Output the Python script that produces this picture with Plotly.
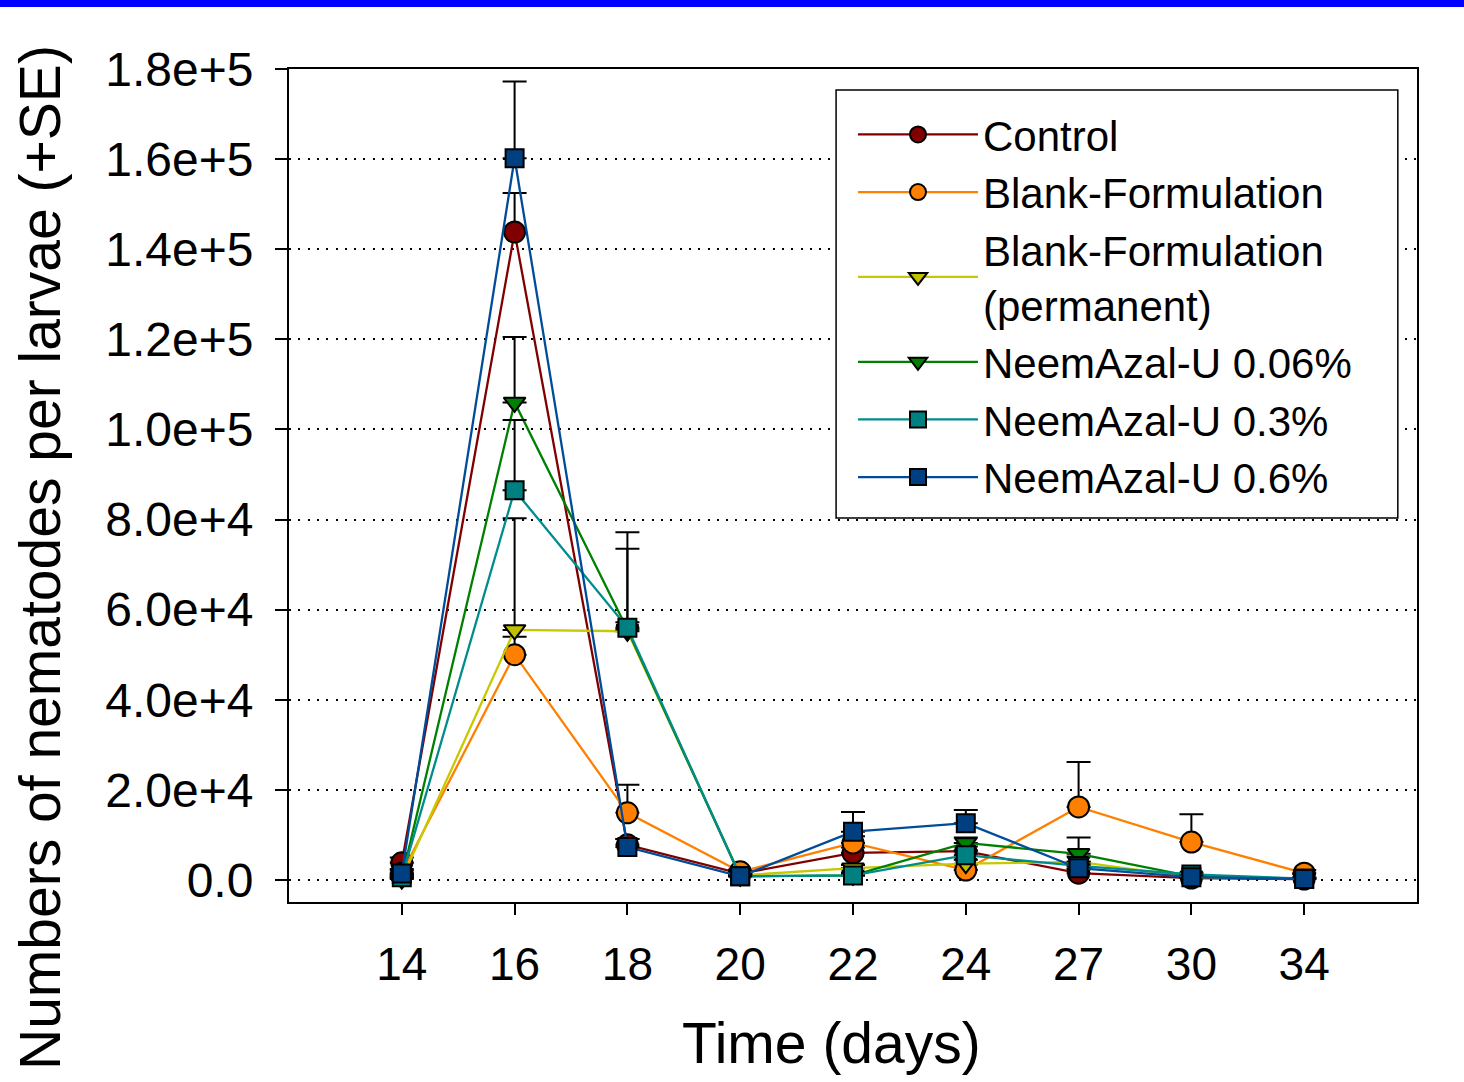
import plotly.graph_objects as go

# ── DATA ─────────────────────────────────────────────────────────────────────
days = ["14", "16", "18", "20", "22", "24", "27", "30", "34"]

control = [3800, 143800, 7800, 1400, 6000, 6400, 1500, 400, 200]
control_se = [1200, 8700, 1300, 500, 1200, 1000, 800, 300, 200]

blank = [1500, 50000, 14900, 1800, 8200, 2200, 16200, 8400, 1500]
blank_se = [900, 4000, 6200, 500, 1500, 1200, 10000, 6200, 700]

blank_perm = [200, 55500, 55200, 1000, 2600, 3600, 4000, 600, 300]
blank_perm_se = [400, 24800, 2000, 400, 700, 900, 1200, 400, 200]

neem_006 = [400, 106000, 55600, 800, 1000, 8200, 5800, 800, 300]
neem_006_se = [500, 14500, 21600, 400, 500, 1200, 3600, 400, 200]

neem_03 = [600, 86500, 56000, 800, 1000, 5500, 3100, 1200, 300]
neem_03_se = [500, 15600, 17500, 400, 600, 1100, 1000, 400, 200]

neem_06 = [1400, 160200, 7300, 800, 10700, 12600, 2600, 600, 200]
neem_06_se = [700, 17000, 1800, 400, 4400, 2900, 900, 400, 200]

y_ticks = [0, 20000, 40000, 60000, 80000, 100000, 120000, 140000, 160000, 180000]
y_ticklabels = ["0.0", "2.0e+4", "4.0e+4", "6.0e+4", "8.0e+4", "1.0e+5",
                "1.2e+5", "1.4e+5", "1.6e+5", "1.8e+5"]

FONT = "Liberation Sans, Arial, sans-serif"

series = [
    ("Control", control, control_se, "#800000", "#800000", "circle", 21),
    ("Blank-Formulation", blank, blank_se, "#FF8000", "#FF8000", "circle", 21),
    ("Blank-Formulation<br>(permanent)", blank_perm, blank_perm_se, "#C8C800", "#C0C000", "triangle-down", 19),
    ("NeemAzal-U 0.06%", neem_006, neem_006_se, "#008000", "#008000", "triangle-down", 19),
    ("NeemAzal-U 0.3%", neem_03, neem_03_se, "#008C8C", "#008080", "square", 18),
    ("NeemAzal-U 0.6%", neem_06, neem_06_se, "#004C99", "#004080", "square", 18),
]

fig = go.Figure()
for name, vals, se, line_col, fill_col, symbol, size in series:
    fig.add_trace(go.Scatter(
        x=days,
        y=vals,
        name=name,
        mode="lines+markers",
        line=dict(color=line_col, width=2.3),
        marker=dict(symbol=symbol, size=size, color=fill_col,
                    line=dict(color="black", width=2)),
        error_y=dict(type="data", array=se, arrayminus=[0] * len(se),
                     symmetric=False, color="black", thickness=2, width=12),
    ))

# blue band along the top of the page
fig.add_shape(type="rect", xref="paper", yref="paper",
              x0=-0.3, x1=1.1, y0=1.0744, y1=1.1,
              fillcolor="#0000FF", line_width=0, layer="above")

# legend frame (opaque, hides the gridlines behind it)
fig.add_shape(type="rect", xref="paper", yref="paper",
              x0=0.485, x1=0.983, y0=0.461, y1=0.9748,
              fillcolor="white", line=dict(color="black", width=1.5), layer="above")

# axis titles
fig.add_annotation(text="Numbers of nematodes per larvae (+SE)", xref="paper", yref="paper",
                   x=-0.2207, y=0.413, xanchor="center", yanchor="middle",
                   textangle=-90, showarrow=False,
                   font=dict(family=FONT, size=57, color="black"))
fig.add_annotation(text="Time (days)", xref="paper", yref="paper",
                   x=0.4805, y=-0.169, xanchor="center", yanchor="middle",
                   showarrow=False,
                   font=dict(family=FONT, size=57, color="black"))

fig.update_layout(
    width=1464,
    height=1082,
    margin=dict(l=289, r=47, t=69, b=180),
    plot_bgcolor="white",
    paper_bgcolor="white",
    font=dict(family=FONT, size=45, color="black"),
    showlegend=True,
    legend=dict(
        x=0.5, y=0.962, xanchor="left", yanchor="top",
        bgcolor="rgba(0,0,0,0)", borderwidth=0,
        font=dict(family=FONT, size=42, color="black"),
        itemwidth=120, tracegroupgap=0,
    ),
    xaxis=dict(
        type="category",
        range=[-1, 9],
        showline=True, linecolor="black", linewidth=2, mirror=True,
        ticks="outside", ticklen=11, tickwidth=2, tickcolor="black",
        showgrid=False, zeroline=False,
        tickfont=dict(family=FONT, size=46),
        ticklabelstandoff=10,
    ),
    yaxis=dict(
        range=[-4900, 180000],
        tickvals=y_ticks,
        ticktext=y_ticklabels,
        showline=True, linecolor="black", linewidth=2, mirror=True,
        ticks="outside", ticklen=12, tickwidth=2, tickcolor="black",
        showgrid=True, gridcolor="black", gridwidth=2, griddash="2px,7.3px",
        zeroline=False,
        tickfont=dict(family=FONT, size=48),
        ticklabelstandoff=12,
    ),
)

fig.write_html("out.html", config={"displayModeBar": False},
               post_script="document.body.style.margin='0';")
